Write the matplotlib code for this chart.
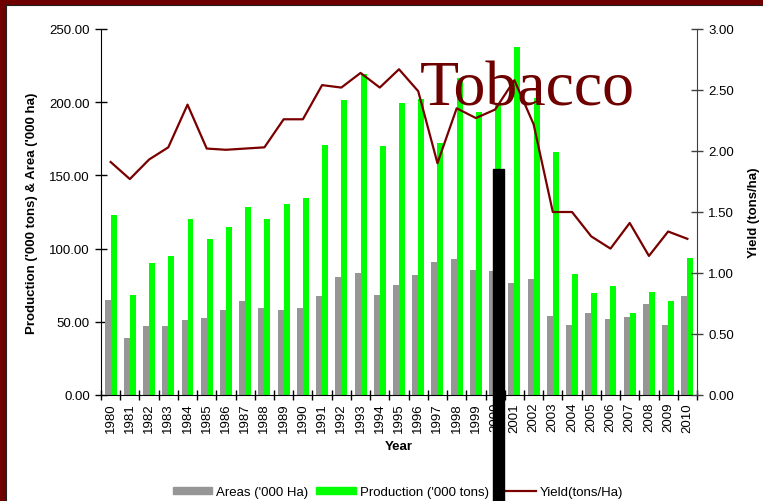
import matplotlib
matplotlib.use("Agg")
import matplotlib.pyplot as plt
import matplotlib.ticker as mticker
from matplotlib.patches import Rectangle
from matplotlib.lines import Line2D
import numpy as np

plt.rcParams["font.family"] = ["Liberation Sans", "DejaVu Sans"]

years = list(range(1980, 2011))
areas = [64.7, 38.7, 46.9, 46.9, 51.0, 52.4, 57.9, 64.0, 59.2, 57.9,
         59.2, 67.4, 80.4, 83.2, 68.1, 75.0, 81.8, 90.7, 92.7, 85.2,
         84.5, 76.3, 79.1, 53.8, 47.6, 55.8, 51.7, 53.1, 62.0, 47.6, 67.4]
production = [122.8, 68.1, 90.0, 94.8, 120.1, 106.4, 114.6, 128.3, 120.1, 130.3,
              134.4, 170.7, 201.4, 219.2, 170.0, 199.4, 202.1, 172.0, 216.5, 193.2,
              198.0, 237.6, 202.8, 165.9, 82.5, 69.5, 74.3, 55.8, 70.2, 64.0, 93.4]
yields = [1.91, 1.77, 1.93, 2.03, 2.38, 2.02, 2.01, 2.02, 2.03, 2.26,
          2.26, 2.54, 2.52, 2.64, 2.52, 2.67, 2.49, 1.90, 2.35, 2.27,
          2.34, 2.58, 2.22, 1.50, 1.50, 1.30, 1.20, 1.41, 1.14, 1.34, 1.28]

gray = "#969696"
green = "#00ff00"
dred = "#7a0000"

fig = plt.figure(figsize=(7.63, 5.02), dpi=100)
ax = fig.add_axes([101 / 763, 1 - 396 / 502, 596 / 763, 366 / 502])
x = np.arange(len(years))

ax.bar(x - 0.155, areas, 0.31, color=gray, zorder=2)
ax.bar(x + 0.155, production, 0.31, color=green, zorder=2)
ax.set_xlim(-0.5, len(years) - 0.5)
ax.set_ylim(0, 250)
ax.yaxis.set_major_locator(mticker.MultipleLocator(50))
ax.yaxis.set_major_formatter(mticker.FormatStrFormatter("%.2f"))

# ticks between groups, labels at centers
ax.set_xticks(np.arange(-0.5, len(years), 1.0))
ax.set_xticklabels([])
ax.set_xticks(x, minor=True)
ax.set_xticklabels([str(y) for y in years], minor=True, rotation=90, fontsize=9.5)
ax.tick_params(axis="x", which="major", direction="inout", length=7, width=1)
ax.tick_params(axis="x", which="minor", length=0, pad=5)
ax.tick_params(axis="y", direction="inout", length=8, width=1, labelsize=9.5, pad=4)

ax.spines["top"].set_visible(False)
ax.spines["right"].set_visible(False)
ax.set_ylabel("Production ('000 tons) & Area ('000 ha)", fontsize=9.5,
              fontweight="bold", labelpad=8)
ax.set_xlabel("Year", fontsize=9.5, fontweight="bold", labelpad=6)

ax2 = ax.twinx()
ax2.plot(x, yields, color=dred, lw=1.6, zorder=3)
ax2.set_ylim(0, 3)
ax2.yaxis.set_major_locator(mticker.MultipleLocator(0.5))
ax2.yaxis.set_major_formatter(mticker.FormatStrFormatter("%.2f"))
ax2.tick_params(axis="y", direction="inout", length=8, width=1, labelsize=9.5,
                pad=4, color="#404040")
for s in ["top", "left", "bottom"]:
    ax2.spines[s].set_visible(False)
ax2.spines["right"].set_color("#404040")
ax2.set_ylabel("Yield (tons/ha)", fontsize=9.5, fontweight="bold", labelpad=10)

fig.text(420 / 763, 1 - 105 / 502, "Tobacco", fontsize=46, color="#6e0000",
         family=["Liberation Serif", "DejaVu Serif"], ha="left", va="baseline",
         zorder=10)

handles = [Rectangle((0, 0), 1, 1, color=gray),
           Rectangle((0, 0), 1, 1, color=green),
           Line2D([0], [0], color=dred, lw=1.6)]
fig.legend(handles, ["Areas ('000 Ha)", "Production ('000 tons)", "Yield(tons/Ha)"],
           loc="center", bbox_to_anchor=(398 / 763, 1 - 493 / 502), ncol=3,
           frameon=False, fontsize=9.5, handlelength=3.0, handleheight=0.5,
           handletextpad=0.3, columnspacing=0.6, borderaxespad=0)

# black stray bar over the 2000 label and the dark red frame at top/left
fig.add_artist(Rectangle((493 / 763, 0), 11 / 763, 1 - 170 / 502,
                         transform=fig.transFigure, color="black", zorder=12))
fig.add_artist(Rectangle((0, 0), 5 / 763, 1, transform=fig.transFigure,
                         color="#6e0000", zorder=12))
fig.add_artist(Rectangle((0, 1 - 5 / 502), 1, 5 / 502, transform=fig.transFigure,
                         color="#6e0000", zorder=12))
fig.add_artist(Line2D([5.5 / 763, 5.5 / 763], [0, 1 - 5 / 502], transform=fig.transFigure,
                      color="#222222", lw=0.8, zorder=12))
fig.add_artist(Line2D([5 / 763, 1], [1 - 5.5 / 502, 1 - 5.5 / 502], transform=fig.transFigure,
                      color="#222222", lw=0.8, zorder=12))

fig.savefig("out.png", dpi=100)
